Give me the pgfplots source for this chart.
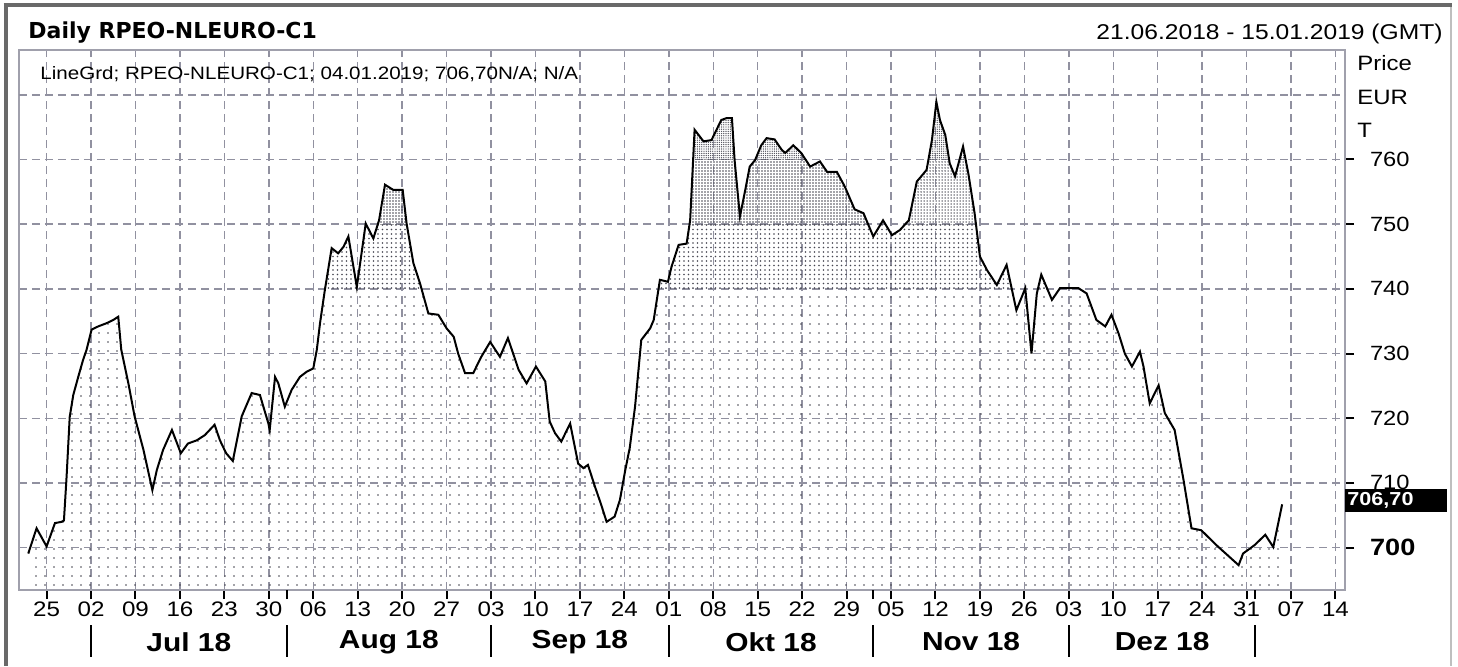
\documentclass[border=0pt]{standalone}
\usepackage{fontspec}
\setmainfont{Liberation Sans}[FakeStretch=1.15]
\newfontfamily\titlefont{DejaVu Sans}
\usepackage{pgfplots}
\pgfplotsset{compat=1.18}
\usepackage{pgfplotstable}
\usetikzlibrary{patterns.meta}

\definecolor{gridc}{RGB}{145,145,160}
\definecolor{axc}{RGB}{160,160,172}
\definecolor{dotc}{RGB}{70,70,80}
\definecolor{framec}{RGB}{105,105,105}

\pgfplotstableread{
x y
-0.06 699.1
0.87 703.0
2.0 700.2
2.94 703.8
3.69 704.0
3.95 704.2
4.25 711.0
4.6 720.2
5.0 723.6
5.56 726.4
6.1 729.0
6.5 730.6
7.06 733.7
7.8 734.2
8.75 734.7
9.5 735.2
10.06 735.7
10.4 730.6
11.2 725.4
11.9 720.3
12.9 715.1
13.9 708.9
14.4 712.0
15.1 715.1
16.1 718.2
17.1 714.6
17.9 716.1
18.9 716.6
19.8 717.4
20.9 719.0
21.5 716.6
22.2 714.6
22.95 713.4
23.95 720.3
25.07 723.9
26.0 723.6
26.95 719.2
27.1 718.2
27.7 726.4
28.07 725.4
28.8 721.8
29.57 724.4
30.5 726.4
31.26 727.2
32.0 727.7
32.4 730.6
32.76 734.7
33.3 739.8
34.07 746.3
34.8 745.5
35.4 746.5
35.95 748.1
36.9 740.3
37.9 750.1
38.76 747.8
39.4 750.6
40.07 756.1
41.0 755.3
42.06 755.3
42.5 750.1
43.26 744.0
44.0 740.9
44.95 736.2
46.07 736.0
47.0 733.9
47.8 732.6
48.3 730.0
49.07 727.0
50.0 727.0
50.9 729.5
51.9 731.8
53.0 729.5
53.9 732.4
55.1 727.5
56.0 725.4
57.05 728.0
58.1 725.7
58.6 719.5
59.2 717.7
59.9 716.4
60.9 719.2
61.8 713.0
62.4 712.3
62.9 712.8
63.7 709.4
64.4 706.6
65.0 704.0
65.9 704.8
66.5 707.4
67.1 712.0
67.6 715.4
68.2 721.8
68.9 732.1
69.9 733.9
70.3 735.2
71.0 741.4
71.9 741.1
72.3 743.4
73.1 746.8
74.0 747.0
74.4 750.6
74.9 764.6
75.9 762.8
76.8 763.0
77.9 766.1
78.5 766.4
79.1 766.4
79.4 759.9
80.0 751.2
80.6 755.3
81.1 758.9
81.7 759.9
82.4 762.2
83.0 763.3
83.9 763.1
84.7 761.5
85.1 761.0
86.0 762.2
86.9 761.0
87.9 758.9
89.0 759.7
89.8 758.1
90.9 758.1
91.8 755.8
92.9 752.3
93.9 751.7
95.0 748.1
96.1 750.6
97.1 748.3
98.0 749.1
99.0 750.6
99.9 756.6
100.4 757.4
101.0 758.4
101.6 763.0
102.1 768.9
102.5 766.1
103.1 763.8
103.6 759.4
104.2 757.4
105.1 762.0
105.7 757.8
106.4 751.7
107.0 745.0
107.8 742.9
108.9 740.6
110.0 743.7
111.1 736.7
112.1 740.1
112.8 730.0
113.4 739.3
113.9 742.2
115.1 738.3
116.0 740.1
118.1 740.1
119.0 739.3
120.1 735.2
121.1 734.2
121.8 736.0
122.6 733.1
123.3 730.0
124.1 728.0
125.0 730.3
125.4 728.0
126.1 722.3
127.1 725.1
127.8 720.8
128.9 718.2
129.9 710.5
130.8 703.0
131.9 702.7
133.6 700.4
136.1 697.3
136.6 699.1
137.9 700.4
139.1 702.0
140.0 700.1
141.0 706.7
}\pricedata

\begin{document}
\begin{tikzpicture}[x=1pt,y=1pt]
\useasboundingbox (0,0) rectangle (729,-333);
\draw[framec, line width=2pt] (1.75,-2.5) -- (726,-2.5);
\draw[framec, line width=2pt] (2.75,-1.5) -- (2.75,-333);
\draw[black!25, line width=1pt] (725.5,-3.5) -- (725.5,-333);

\node[anchor=base west, inner sep=0pt, font=\titlefont\bfseries\fontsize{11}{11}\selectfont] at (14,-19) {Daily RPEO-NLEURO-C1};
\node[anchor=base east, inner sep=0pt, font=\fontsize{10.7}{11}\selectfont] at (721.5,-19.5) {21.06.2018 - 15.01.2019 (GMT)};

\begin{axis}[
  at={(9.5pt,-295pt)}, anchor=south west,
  scale only axis, width=663pt, height=270pt,
  xmin=-1.105, xmax=148.07, ymin=693.46, ymax=776.92,
  clip mode=individual,
  axis line style={axc, line width=1pt},
  xtick={2,7,...,147},
  xticklabels={25,02,09,16,23,30,06,13,20,27,03,10,17,24,01,08,15,22,29,05,12,19,26,03,10,17,24,31,07,14},
  extra x ticks={29,95,138}, extra x tick labels={},
  extra x tick style={grid=none},
  ytick={700,710,...,760},
  yticklabels={{\bfseries\fontsize{11.8}{12}\selectfont 700},{\raisebox{1pt}{710}},720,730,740,750,760},
  extra y ticks={770}, extra y tick labels={},
  extra y tick style={major tick length=0pt},
  xtick pos=bottom, ytick pos=right, yticklabel pos=right,
  tick align=outside, major tick length=4.5pt,
  tick style={black, line width=1pt},
  grid=major,
  major grid style={gridc, line width=0.75pt, dash pattern=on 4pt off 2.5pt},
  xticklabel style={font=\fontsize{10.5}{11}\selectfont, yshift=2pt},
  yticklabel style={font=\fontsize{10.3}{11}\selectfont, anchor=west, xshift=4.5pt},
]
\begin{scope}
\clip (axis cs:-1.105,693.46) rectangle (axis cs:148.07,740);
\addplot[draw=none, pattern={Dots[distance=4.5pt, radius=0.45pt]}, pattern color=dotc] table[x=x,y=y]{\pricedata} \closedcycle;
\end{scope}
\begin{scope}
\clip (axis cs:-1.105,740) rectangle (axis cs:148.07,750);
\addplot[draw=none, pattern={Dots[distance=2.25pt, radius=0.42pt]}, pattern color=dotc] table[x=x,y=y]{\pricedata} \closedcycle;
\end{scope}
\begin{scope}
\clip (axis cs:-1.105,750) rectangle (axis cs:148.07,760);
\addplot[draw=none, pattern={Dots[distance=1.5pt, radius=0.38pt]}, pattern color=dotc] table[x=x,y=y]{\pricedata} \closedcycle;
\end{scope}
\begin{scope}
\clip (axis cs:-1.105,760) rectangle (axis cs:148.07,776.92);
\addplot[draw=none, pattern={Dots[distance=1.1pt, radius=0.34pt]}, pattern color=dotc] table[x=x,y=y]{\pricedata} \closedcycle;
\end{scope}
\addplot[black, line width=1pt] table[x=x,y=y]{\pricedata};

\node[anchor=base west, inner sep=0pt, font=\fontsize{8.95}{9}\selectfont] at ([xshift=10.5pt, yshift=-14.5pt]axis cs:-1.105,776.92) {LineGrd; RPEO-NLEURO-C1; 04.01.2019; 706,70N/A; N/A};

\draw[black, line width=1pt] ([yshift=-17.5pt]axis cs:7,693.46) -- ([yshift=-33.5pt]axis cs:7,693.46);
\draw[black, line width=1pt] ([yshift=-17.5pt]axis cs:29,693.46) -- ([yshift=-33.5pt]axis cs:29,693.46);
\draw[black, line width=1pt] ([yshift=-17.5pt]axis cs:52,693.46) -- ([yshift=-33.5pt]axis cs:52,693.46);
\draw[black, line width=1pt] ([yshift=-17.5pt]axis cs:72,693.46) -- ([yshift=-33.5pt]axis cs:72,693.46);
\draw[black, line width=1pt] ([yshift=-17.5pt]axis cs:95,693.46) -- ([yshift=-33.5pt]axis cs:95,693.46);
\draw[black, line width=1pt] ([yshift=-17.5pt]axis cs:117,693.46) -- ([yshift=-33.5pt]axis cs:117,693.46);
\draw[black, line width=1pt] ([yshift=-17.5pt]axis cs:138,693.46) -- ([yshift=-33.5pt]axis cs:138,693.46);
\node[font=\bfseries\fontsize{13}{13}\selectfont] at ([yshift=-26pt]axis cs:18,693.46) {Jul 18};
\node[font=\bfseries\fontsize{13}{13}\selectfont] at ([yshift=-26pt]axis cs:40.5,693.46) {Aug 18};
\node[font=\bfseries\fontsize{13}{13}\selectfont] at ([yshift=-26pt]axis cs:62,693.46) {Sep 18};
\node[font=\bfseries\fontsize{13}{13}\selectfont] at ([yshift=-26pt]axis cs:83.5,693.46) {Okt 18};
\node[font=\bfseries\fontsize{13}{13}\selectfont] at ([yshift=-26pt]axis cs:106,693.46) {Nov 18};
\node[font=\bfseries\fontsize{13}{13}\selectfont] at ([yshift=-26pt]axis cs:127.5,693.46) {Dez 18};
\end{axis}

\node[anchor=west, inner sep=0pt, font=\fontsize{10.4}{11}\selectfont] at (678.5,-31.5) {Price};
\node[anchor=west, inner sep=0pt, font=\fontsize{10.4}{11}\selectfont] at (678.5,-48.5) {EUR};
\node[anchor=west, inner sep=0pt, font=\fontsize{10.4}{11}\selectfont] at (678.5,-65) {T};

\fill[black] (672.5,-244.5) rectangle (723.5,-256);
\node[anchor=west, inner sep=0pt, text=white, font=\bfseries\fontsize{9.4}{10}\selectfont] at (673.5,-250.25) {706,70};
\end{tikzpicture}
\end{document}
